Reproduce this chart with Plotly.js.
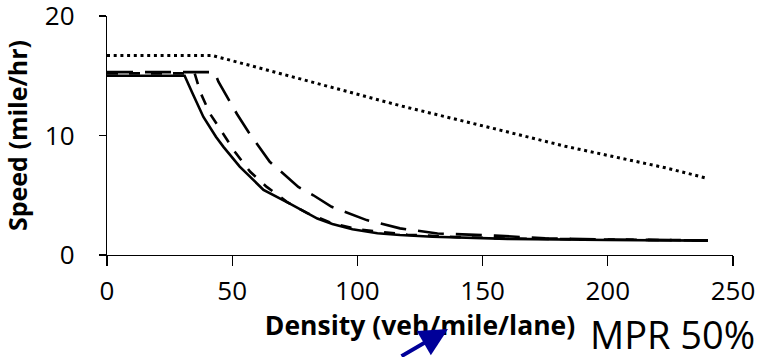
<!DOCTYPE html>
<html>
<head>
<meta charset="utf-8">
<script src="https://cdn.plot.ly/plotly-3.0.1.min.js"></script>
<style>html,body{margin:0;padding:0;background:#fff;}#chart{width:766px;height:357px;}</style>
</head>
<body>
<div id="chart"></div>
<script>
// Series (density in veh/mile/lane, speed in mile/hr)
const solidX = [0, 31, 34, 38.5, 43.5, 46.5, 53, 62.5, 73, 84, 90, 98, 108, 117, 130, 140, 160, 200, 240];
const solidY = [15.0, 15.0, 13.6, 11.55, 9.9, 9.05, 7.4, 5.45, 4.3, 3.05, 2.6, 2.15, 1.82, 1.67, 1.53, 1.45, 1.35, 1.25, 1.2];

const shortDashX = [0, 35, 37.3, 41.2, 45.9, 51.2, 57.2, 63.8, 71.8, 80, 90, 100, 120, 140, 160, 200, 240];
const shortDashY = [15.2, 15.2, 13.6, 11.8, 10.3, 8.6, 6.96, 5.7, 4.45, 3.5, 2.65, 2.15, 1.7, 1.5, 1.38, 1.28, 1.22];

const longDashX = [0, 43, 44.5, 49.2, 51.9, 56.5, 65, 76.4, 82.4, 89.7, 103.7, 117, 132, 155, 175, 200, 240];
const longDashY = [15.3, 15.3, 14.5, 12.75, 11.8, 10.3, 7.8, 5.7, 5.0, 4.03, 2.92, 2.23, 1.8, 1.62, 1.4, 1.3, 1.22];

const dottedX = [0, 42, 60, 93, 117, 157, 183, 223, 240];
const dottedY = [16.7, 16.7, 15.7, 13.85, 12.5, 10.45, 9.1, 7.3, 6.4];

const xTicks = [0, 50, 100, 150, 200, 250];
const yTicks = [0, 10, 20];

const xTitle = "Density (veh/mile/lane)";
const yTitle = "Speed (mile/hr)";
const noteText = "MPR 50%";

const FONT = "Open Sans, Liberation Sans, sans-serif";

const traces = [
  {x: dottedX, y: dottedY, mode: "lines", line: {color: "#000", width: 3, dash: "3px,3.7px"}},
  {x: longDashX, y: longDashY, mode: "lines", line: {color: "#000", width: 2.6, dash: "26px,12px"}},
  {x: shortDashX, y: shortDashY, mode: "lines", line: {color: "#000", width: 2.6, dash: "11px,11px"}},
  {x: solidX, y: solidY, mode: "lines", line: {color: "#000", width: 2.6}}
];

const layout = {
  width: 766, height: 357,
  margin: {l: 107, r: 33, t: 16, b: 102},
  paper_bgcolor: "#fff", plot_bgcolor: "#fff",
  showlegend: false,
  font: {family: FONT, color: "#000", size: 26},
  xaxis: {
    range: [0, 250], tickvals: xTicks, ticktext: xTicks.map(String),
    showgrid: false, zeroline: false, showline: true, linecolor: "#000", linewidth: 1.3,
    ticks: "outside", ticklen: 10, tickwidth: 1.3, tickcolor: "#000",
    tickfont: {family: FONT, size: 26, color: "#000"},
    ticklabelstandoff: 2, ticklabeloverflow: "allow",
    automargin: false,
    title: {text: xTitle, font: {family: FONT, size: 26.5, weight: 700, color: "#000"}, standoff: 10}
  },
  yaxis: {
    range: [0, 20], tickvals: yTicks, ticktext: yTicks.map(String),
    showgrid: false, zeroline: false, showline: true, linecolor: "#000", linewidth: 1.3,
    ticks: "outside", ticklen: 7, tickwidth: 1.3, tickcolor: "#000",
    tickfont: {family: FONT, size: 26, color: "#000"},
    ticklabelstandoff: 19, ticklabeloverflow: "allow",
    automargin: false,
    title: {text: yTitle, font: {family: FONT, size: 25, weight: 700, color: "#000"}, standoff: 10}
  },
  annotations: [
    {xref: "paper", yref: "paper", x: 0.5447, y: -0.3096, text: "", showarrow: true,
     ax: -48, ay: 29, arrowhead: 2, arrowsize: 1.4, arrowwidth: 4, arrowcolor: "#000099"},
    {xref: "paper", yref: "paper", x: 0.770, y: -0.33, xanchor: "left", yanchor: "middle",
     text: noteText, showarrow: false, borderpad: 0, font: {family: FONT, size: 38, color: "#000"}}
  ]
};

Plotly.newPlot("chart", traces, layout, {displayModeBar: false, staticPlot: true});
</script>
</body>
</html>
